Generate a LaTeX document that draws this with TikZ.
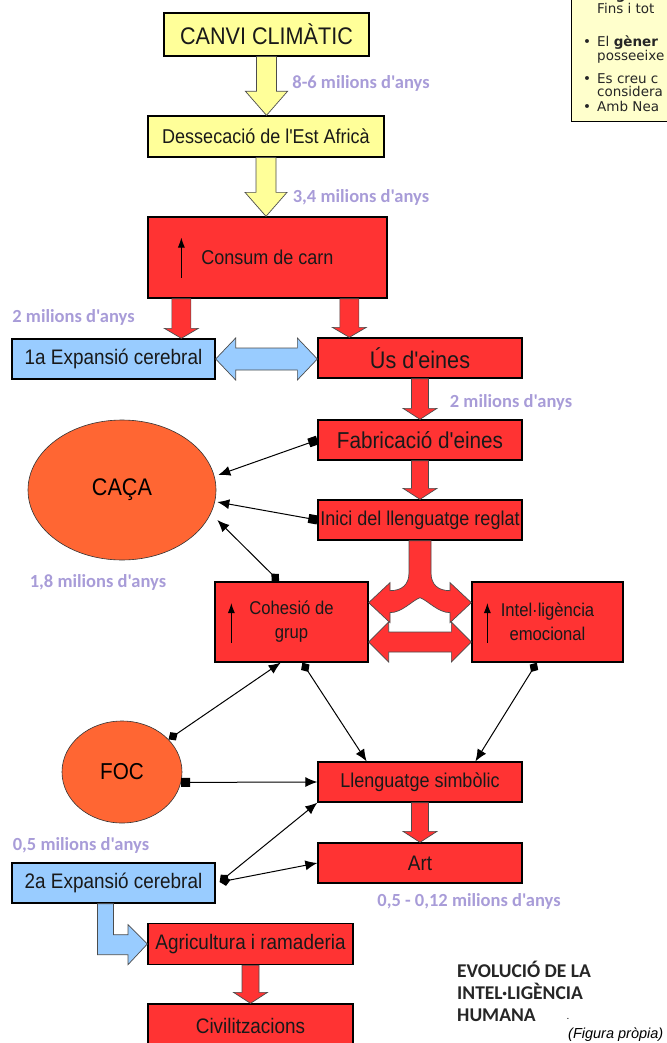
\documentclass[tikz,border=0pt]{standalone}
\usepackage{fontspec}
\setmainfont{Liberation Sans}
\newfontfamily\boxfont{Liberation Sans}[FakeStretch=0.9]
\newfontfamily\lblfont{Carlito}
\newfontfamily\notefont{DejaVu Sans}
\newfontfamily\capfont{Liberation Sans}
\usetikzlibrary{positioning,calc,shapes.geometric,arrows.meta}

\definecolor{boxyellow}{RGB}{255,255,153}
\definecolor{boxred}{RGB}{255,51,51}
\definecolor{boxblue}{RGB}{153,204,255}
\definecolor{ovalorange}{RGB}{255,102,51}
\definecolor{lavender}{RGB}{168,156,216}
\definecolor{notefill}{RGB}{255,255,204}

\newcommand{\fsz}[2]{\fontsize{#1}{#2}\selectfont}

% vertical block arrow: style, from, to, half shaft, half head, head length
\newcommand{\downblock}[6]{%
  \draw[#1] let \p1=(#2), \p2=(#3) in
    (\x1-#4pt,\y1) -- (\x1-#4pt,\y2+#6pt) -- (\x1-#5pt,\y2+#6pt) -- (\x1,\y2)
    -- (\x1+#5pt,\y2+#6pt) -- (\x1+#4pt,\y2+#6pt) -- (\x1+#4pt,\y1) -- cycle;}

% horizontal double block arrow: style, left, right, half shaft, half head, head length
\newcommand{\twinblock}[6]{%
  \draw[#1] let \p1=(#2), \p2=(#3) in
    (\x1,\y1) -- (\x1+#6pt,\y1+#5pt) -- (\x1+#6pt,\y1+#4pt) -- (\x2-#6pt,\y1+#4pt)
    -- (\x2-#6pt,\y1+#5pt) -- (\x2,\y1) -- (\x2-#6pt,\y1-#5pt) -- (\x2-#6pt,\y1-#4pt)
    -- (\x1+#6pt,\y1-#4pt) -- (\x1+#6pt,\y1-#5pt) -- cycle;}

\begin{document}
\begin{tikzpicture}[
    x=1pt, y=-1pt,
    box/.style={draw=black, line width=1.3pt, inner sep=0pt, align=center, text=black!90},
    yellowbox/.style={box, fill=boxyellow},
    redbox/.style={box, fill=boxred, minimum width=204pt, minimum height=40pt},
    bluebox/.style={box, fill=boxblue, minimum width=203pt, minimum height=40pt},
    oval/.style={ellipse, draw=black!80, line width=0.6pt, fill=ovalorange, inner sep=0pt},
    years/.style={font=\lblfont\bfseries\fsz{18.5}{22}, text=lavender, inner sep=0pt},
    block/.style={draw=black!70, line width=0.7pt},
    yarrow/.style={block, fill=boxyellow},
    rarrow/.style={block, fill=boxred},
    barrow/.style={block, fill=boxblue},
    link/.style={line width=1pt, {Diamond[length=11pt,width=10pt]}-{Latex[length=12pt,width=10pt]}},
    sqlink/.style={line width=1pt, {Square[length=9pt,width=9pt]}-{Latex[length=12pt,width=10pt]}},
    uptick/.style={line width=1pt, -{Latex[length=10pt,width=7pt]}},
    notebox/.style={draw=black, line width=1.3pt, fill=notefill},
    notetext/.style={font=\notefont\fsz{13.5}{13}, align=left, inner sep=0pt, text=black!85}
]
\useasboundingbox (0,0) rectangle (666,1043);

\node[notebox, anchor=south west, minimum width=130pt, minimum height=150pt] (note) at (571,122) {};
\node[notetext, anchor=base west] (notetxt) at (583,112)
    {\hspace*{14pt}\textbf{El gène}\\
     \hspace*{14pt}Fins i tot\\[20pt]
     \makebox[14pt][l]{•}El \textbf{gèner}\\
     \hspace*{14pt}posseeixe\\[10pt]
     \makebox[14pt][l]{•}Es creu c\\
     \hspace*{14pt}considera\\[2pt]
     \makebox[14pt][l]{•}Amb Nea};

\node[yellowbox, minimum width=205pt, minimum height=43pt, font=\boxfont\fsz{24}{28}] (canvi) at (266.5,34.5) {CANVI CLIMÀTIC};
\node[yellowbox, minimum width=236pt, minimum height=41pt, font=\boxfont\fsz{20}{24}] (desse) at (266,136.5) {Dessecació de l'Est Africà};
\node[redbox, minimum width=239pt, minimum height=81pt, font=\boxfont\fsz{20}{24}] (consum) at (267.5,257.5) {Consum de carn};
\node[bluebox, font=\boxfont\fsz{21}{25}] (expan1) at (113.5,359) {1a Expansió cerebral};
\node[redbox, font=\boxfont\fsz{24}{28}] (us) at (420,358) {Ús d'eines};
\node[redbox, font=\boxfont\fsz{23}{27}] (fabric) at (420,440) {Fabricació d'eines};
\node[redbox, font=\boxfont\fsz{20}{24}] (inici) at (420,520) {Inici del llenguatge reglat};
\node[oval, minimum width=188pt, minimum height=140pt, font=\boxfont\fsz{24}{28}] (caca) at (122,490) {CAÇA};
\node[redbox, minimum width=153pt, minimum height=80pt, font=\boxfont\fsz{18.5}{24}] (cohesio) at (291.5,622) {Cohesió de\\grup};
\node[redbox, minimum width=151pt, minimum height=80pt, font=\boxfont\fsz{18.5}{24}] (intel) at (547.5,622) {Intel·ligència\\emocional};
\node[oval, minimum width=120pt, minimum height=102pt, font=\boxfont\fsz{23}{27}] (foc) at (122,772) {FOC};
\node[redbox, font=\boxfont\fsz{20}{24}] (llen) at (420,782) {Llenguatge simbòlic};
\node[redbox, font=\boxfont\fsz{21}{25}] (art) at (420,863) {Art};
\node[bluebox, font=\boxfont\fsz{21}{25}] (expan2) at (113.5,883) {2a Expansió cerebral};
\node[redbox, minimum width=205pt, minimum height=41pt, font=\boxfont\fsz{21}{25}] (agri) at (250.5,944) {Agricultura i ramaderia};
\node[redbox, minimum width=205pt, minimum height=44pt, font=\boxfont\fsz{21}{25}] (civil) at (250.5,1026) {Civilitzacions};

\node[years] (y86) at (361,83) {8-6 milions d'anys};
\node[years] (y34) at (361,197) {3,4 milions d'anys};
\node[years] (y2a) at (73.5,317) {2 milions d'anys};
\node[years] (y2b) at (511,402) {2 milions d'anys};
\node[years] (y18) at (98,582) {1,8 milions d'anys};
\node[years] (y05) at (81,845) {0,5 milions d'anys};
\node[years] (y012) at (469,901) {0,5 - 0,12 milions d'anys};

\node[anchor=west, align=left, inner sep=0pt, font=\lblfont\bfseries\fsz{19.5}{22}, text=black!85] (title) at (457,991)
    {EVOLUCIÓ DE LA\\INTEL·LIGÈNCIA\\HUMANA};
\node[inner sep=0pt, font=\capfont\fsz{10}{12}] (dot) at (568,1019) {.};
\node[anchor=west, inner sep=0pt, font=\capfont\itshape\fsz{14.5}{16}] (figura) at (568,1035) {(Figura pròpia)};

\downblock{yarrow}{canvi.south}{desse.north}{10}{21}{24}
\downblock{yarrow}{desse.south}{consum.north}{10}{21}{24}
\downblock{rarrow}{$(consum.south west)+(34,0)$}{expan1.north}{9.5}{17}{10}
\downblock{rarrow}{$(consum.south west)+(202,0)$}{us.north}{9.5}{17}{10}
\downblock{rarrow}{us.south}{fabric.north}{8.5}{17}{11}
\downblock{rarrow}{fabric.south}{inici.north}{8.5}{17}{11}
\downblock{rarrow}{llen.south}{art.north}{8.5}{17}{11}
\downblock{rarrow}{agri.south}{civil.north}{8.5}{17}{11}

\twinblock{barrow}{expan1.east}{us.west}{11}{21}{20}
\twinblock{rarrow}{$(cohesio.east)+(0,20)$}{$(intel.west)+(0,20)$}{10}{20}{20}

\begin{scope}[shift={(inici.south)}]
\draw[rarrow] (-11,0) -- (-11,32) .. controls (-11,44) and (-18,50) .. (-30,50)
    -- (-30,42) -- (cohesio.east |- 0,62) -- (-30,82) -- (-30,72)
    .. controls (-18,72) and (-8,60) .. (0,57)
    .. controls (8,60) and (18,72) .. (30,72) -- (30,82)
    -- (intel.west |- 0,62) -- (30,42) -- (30,50)
    .. controls (18,50) and (11,44) .. (11,32) -- (11,0) -- cycle;
\end{scope}

\begin{scope}[shift={(expan2.south)}]
\draw[barrow] (-16,0) -- (-16,51) -- (14.5,51) -- (14.5,61) -- (agri.west)
    -- (14.5,21) -- (14.5,31) -- (0,31) -- (0,0) -- cycle;
\end{scope}

\draw[uptick] ($(consum.west)+(34,20)$) -- ++(0,-40);
\draw[uptick] ($(cohesio.west)+(17,21)$) -- ++(0,-40);
\draw[uptick] ($(intel.west)+(16,21)$) -- ++(0,-40);

\draw[sqlink] (fabric.west) -- ($(caca.east)+(2,-15)$);
\draw[sqlink] (inici.west) -- ($(caca.east)+(1,12)$);
\draw[link] ($(cohesio.north west)!0.42!(cohesio.north east)$) -- ($(caca.east)+(1,30)$);
\draw[link] (foc.35) -- ($(cohesio.south west)!0.43!(cohesio.south east)$);
\draw[link] ($(cohesio.south west)!0.57!(cohesio.south east)$) -- ($(llen.north west)!0.24!(llen.north east)$);
\draw[link] ($(intel.south west)!0.43!(intel.south east)$) -- ($(llen.north west)!0.77!(llen.north east)$);
\draw[sqlink] (foc.-10) -- (llen.west);
\draw[link] ($(expan2.east)+(4,-1)$) -- (llen.south west);
\draw[link] ($(expan2.east)+(4,-1)$) -- (art.west);

\end{tikzpicture}
\end{document}
